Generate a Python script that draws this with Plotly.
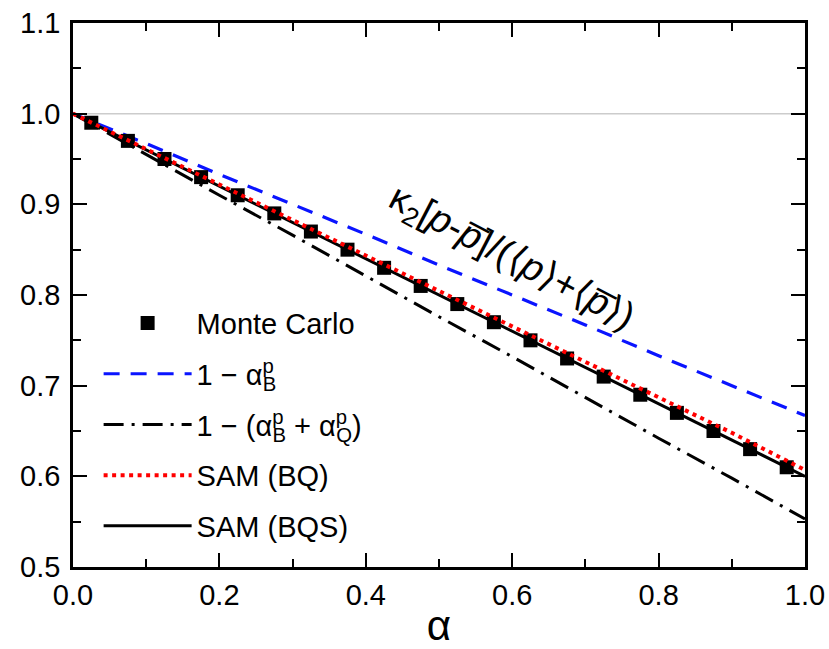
import plotly.graph_objects as go

# Monte Carlo points
mc_x = [0.025, 0.075, 0.125, 0.175, 0.225, 0.275, 0.325, 0.375, 0.425, 0.475,
        0.525, 0.575, 0.625, 0.675, 0.725, 0.775, 0.825, 0.875, 0.925, 0.975]
mc_y = [0.990, 0.970, 0.950, 0.930, 0.910, 0.890, 0.870, 0.850, 0.830, 0.810,
        0.790, 0.770, 0.750, 0.730, 0.710, 0.690, 0.670, 0.650, 0.630, 0.610]

# curves
line_x = [0.0, 0.1, 0.2, 0.3, 0.4, 0.5, 0.6, 0.7, 0.8, 0.9, 1.0]
one_minus_aB = [1.000, 0.967, 0.933, 0.900, 0.867, 0.833, 0.800, 0.767, 0.733, 0.700, 0.667]
one_minus_aBQ = [1.000, 0.955, 0.910, 0.866, 0.821, 0.776, 0.732, 0.687, 0.642, 0.598, 0.553]
sam_bq = [1.000, 0.961, 0.922, 0.883, 0.844, 0.805, 0.766, 0.727, 0.688, 0.648, 0.607]
sam_bqs = [1.000, 0.960, 0.920, 0.880, 0.840, 0.800, 0.760, 0.720, 0.680, 0.640, 0.600]

x_ticks = [0.0, 0.2, 0.4, 0.6, 0.8, 1.0]
y_ticks = [0.5, 0.6, 0.7, 0.8, 0.9, 1.0, 1.1]

FONT = "Liberation Sans, Arial, sans-serif"

def alpha_pb(sub):
    return ("\u03b1<sup><span style='letter-spacing:-11px'>p</span></sup>"
            "<sub>" + sub + "</sub>")

fig = go.Figure()

# drawing order: blue, dash-dot, solid, markers, red dotted; legend order via legendrank
fig.add_trace(go.Scatter(
    x=line_x, y=one_minus_aB, mode="lines", name="1 \u2212 " + alpha_pb("B"),
    legendgroup="b", legendrank=2, line=dict(color="#0a14ff", width=3.2, dash="16px,11px")))
fig.add_trace(go.Scatter(
    x=line_x, y=one_minus_aBQ, mode="lines",
    name="1 \u2212 (" + alpha_pb("B") + " + " + alpha_pb("Q") + ")",
    legendgroup="c", legendrank=3, line=dict(color="black", width=3, dash="20px,8px,3px,8px")))
fig.add_trace(go.Scatter(
    x=line_x, y=sam_bqs, mode="lines", name="SAM (BQS)", legendgroup="e", legendrank=5,
    line=dict(color="black", width=3)))
fig.add_trace(go.Scatter(
    x=mc_x, y=mc_y, mode="markers", name="Monte Carlo", legendgroup="a", legendrank=1,
    marker=dict(symbol="square", size=14, color="black", line=dict(width=0))))
fig.add_trace(go.Scatter(
    x=line_x, y=sam_bq, mode="lines", name="SAM (BQ)", legendgroup="d", legendrank=4,
    line=dict(color="#ff0000", width=4, dash="4px,4.5px")))

fig.add_shape(type="line", xref="paper", x0=0, x1=1, yref="y", y0=1.0, y1=1.0,
              line=dict(color="#cccccc", width=1.5), layer="below")

fig.add_annotation(
    x=0.598, y=0.84, xref="x", yref="y", showarrow=False, textangle=27.5,
    text="\u03ba<sub>2</sub>[<i>p</i>-<i>p\u0305</i>]/(\u27e8<i>p</i>\u27e9+\u27e8<i>p\u0305</i>\u27e9)",
    font=dict(family=FONT, size=38, color="black"))

axis_common = dict(
    showgrid=False, zeroline=False, showline=True, linecolor="black", linewidth=2.5,
    mirror="ticks", ticks="inside", ticklen=14, tickwidth=2, tickcolor="black",
    tickfont=dict(family=FONT, size=29, color="black"), automargin=False,
)

fig.update_xaxes(range=[0, 1], tickvals=x_ticks, ticktext=[f"{v:.1f}" for v in x_ticks],
                 minor=dict(ticks="inside", ticklen=8, tickwidth=2, tickcolor="black", dtick=0.1, tick0=0),
                 title=dict(text="\u03b1", font=dict(family=FONT, size=42, color="black"), standoff=18),
                 **axis_common)
fig.update_yaxes(range=[0.5, 1.1], tickvals=y_ticks, ticktext=[f"{v:.1f}" for v in y_ticks],
                 minor=dict(ticks="inside", ticklen=8, tickwidth=2, tickcolor="black", dtick=0.05, tick0=0.5),
                 ticklabelstandoff=4,
                 **axis_common)

fig.update_layout(
    width=829, height=649,
    margin=dict(l=73, r=24, t=23, b=82, autoexpand=False),
    paper_bgcolor="white", plot_bgcolor="white",
    showlegend=True,
    legend=dict(x=0.035, y=0.495, xanchor="left", yanchor="top",
                bgcolor="rgba(0,0,0,0)", traceorder="grouped", tracegroupgap=10,
                font=dict(family=FONT, size=29, color="black"), itemwidth=88),
)

fig.write_html("out.html")
